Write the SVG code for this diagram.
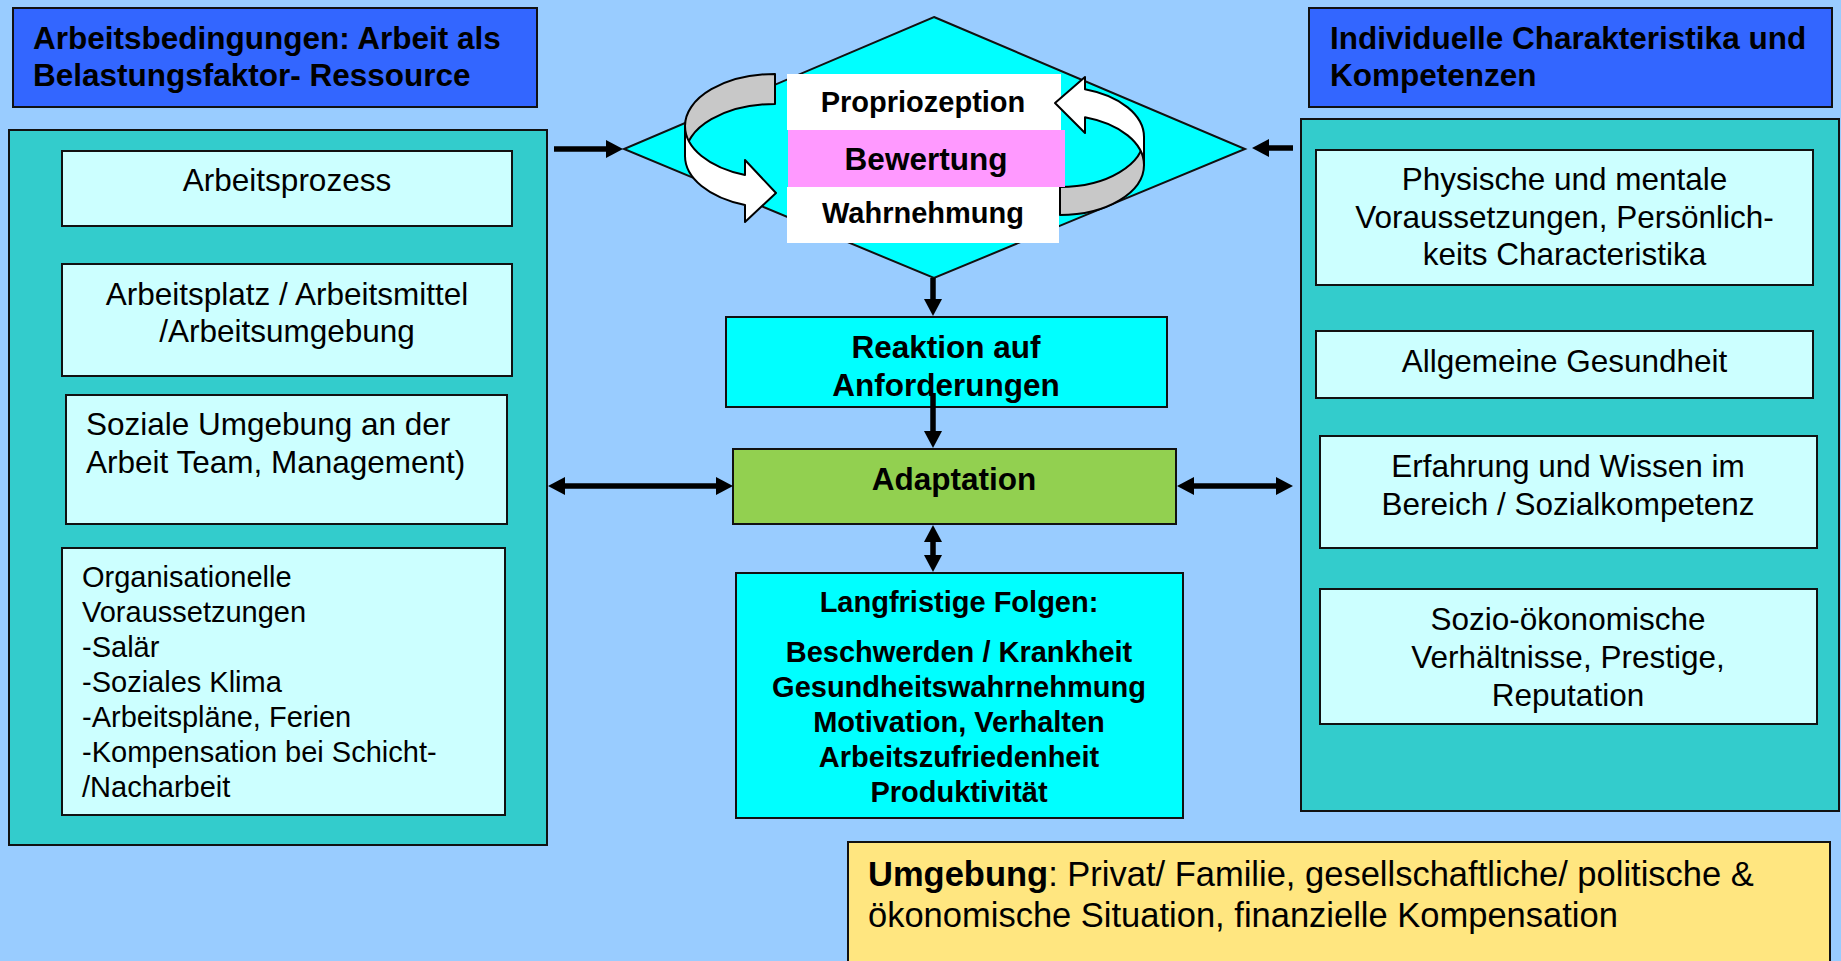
<svg xmlns="http://www.w3.org/2000/svg" width="1841" height="961" viewBox="0 0 1841 961">
<style>
.box{stroke:#111;stroke-width:2}
.title{fill:#3366FF}
.panel{fill:#33CCCC}
.inner{fill:#CCFFFF}
.cyan{fill:#00FFFF}
.t{font-family:"Liberation Sans",Arial,sans-serif;fill:#000}
.r31{font-size:31.5px}
.r29{font-size:29px}
.b31{font-size:31.5px;font-weight:bold}
.b29{font-size:29px;font-weight:bold}
.mid{text-anchor:middle}
.conn{stroke:#000;stroke-width:5.5;fill:none}
.rib{stroke:#000;stroke-width:2;stroke-linejoin:round}
</style>
<defs>
<marker id="ah" markerUnits="userSpaceOnUse" markerWidth="18" markerHeight="20" refX="8" refY="10" orient="auto-start-reverse">
<path d="M0,1 L17,10 L0,19 Z" fill="#000"/>
</marker>
</defs>
<rect width="1841" height="961" fill="#99CCFF"/>

<g id="title-left">
<rect class="box title" x="13" y="8" width="524" height="99"/>
<text class="t b31" x="33" y="49">Arbeitsbedingungen: Arbeit als</text>
<text class="t b31" x="33" y="86">Belastungsfaktor- Ressource</text>
</g>

<g id="title-right">
<rect class="box title" x="1309" y="8" width="523" height="99"/>
<text class="t b31" x="1330" y="49">Individuelle Charakteristika und</text>
<text class="t b31" x="1330" y="86">Kompetenzen</text>
</g>

<g id="panel-left">
<rect class="box panel" x="9" y="130" width="538" height="715"/>
</g>
<g id="arbeitsprozess">
<rect class="box inner" x="62" y="151" width="450" height="75"/>
<text class="t r31 mid" x="287" y="191">Arbeitsprozess</text>
</g>
<g id="arbeitsplatz">
<rect class="box inner" x="62" y="264" width="450" height="112"/>
<text class="t r31 mid" x="287" y="305">Arbeitsplatz / Arbeitsmittel</text>
<text class="t r31 mid" x="287" y="342">/Arbeitsumgebung</text>
</g>
<g id="soziale-umgebung">
<rect class="box inner" x="66" y="395" width="441" height="129"/>
<text class="t r31" x="86" y="435">Soziale Umgebung an der</text>
<text class="t r31" x="86" y="473">Arbeit Team, Management)</text>
</g>
<g id="organisationelle">
<rect class="box inner" x="62" y="548" width="443" height="267"/>
<text class="t r29" x="82" y="587">Organisationelle</text>
<text class="t r29" x="82" y="622">Voraussetzungen</text>
<text class="t r29" x="82" y="657">-Salär</text>
<text class="t r29" x="82" y="692">-Soziales Klima</text>
<text class="t r29" x="82" y="727">-Arbeitspläne, Ferien</text>
<text class="t r29" x="82" y="762">-Kompensation bei Schicht-</text>
<text class="t r29" x="82" y="797">/Nacharbeit</text>
</g>

<g id="panel-right">
<rect class="box panel" x="1301" y="119" width="538" height="692"/>
</g>
<g id="physische">
<rect class="box inner" x="1316" y="150" width="497" height="135"/>
<text class="t r31 mid" x="1564.5" y="190">Physische und mentale</text>
<text class="t r31 mid" x="1564.5" y="227.5">Voraussetzungen, Persönlich-</text>
<text class="t r31 mid" x="1564.5" y="265">keits Characteristika</text>
</g>
<g id="gesundheit">
<rect class="box inner" x="1316" y="331" width="497" height="67"/>
<text class="t r31 mid" x="1564.5" y="372">Allgemeine Gesundheit</text>
</g>
<g id="erfahrung">
<rect class="box inner" x="1320" y="436" width="497" height="112"/>
<text class="t r31 mid" x="1568" y="477">Erfahrung und Wissen im</text>
<text class="t r31 mid" x="1568" y="515">Bereich / Sozialkompetenz</text>
</g>
<g id="sozio">
<rect class="box inner" x="1320" y="589" width="497" height="135"/>
<text class="t r31 mid" x="1568" y="630">Sozio-ökonomische</text>
<text class="t r31 mid" x="1568" y="668">Verhältnisse, Prestige,</text>
<text class="t r31 mid" x="1568" y="706">Reputation</text>
</g>

<g id="bewertung-zyklus">
<polygon class="box cyan" points="934,17 1245,149 934,278 624,149"/>
<path class="rib" fill="#C8C8C8" d="M775,74 A90,52 0 0 0 685,126 L685,156 A90,52 0 0 1 775,104 Z"/>
<path class="rib" fill="#C8C8C8" d="M1060,215 A84,50 0 0 0 1144,165 L1144,137 A84,50 0 0 1 1060,187 Z"/>
<rect x="787" y="74" width="274" height="56" fill="#FFFFFF"/>
<rect x="788" y="130" width="277" height="57" fill="#FF99FF"/>
<rect x="787" y="187" width="272" height="56" fill="#FFFFFF"/>
<text class="t b29 mid" x="923" y="112">Propriozeption</text>
<text class="t b31 mid" x="926" y="170">Bewertung</text>
<text class="t b29 mid" x="923" y="223">Wahrnehmung</text>
<path class="rib" fill="#FFFFFF" d="M685,126 A90,52 0 0 0 745,175 L745,160 L776,193 L745,222 L745,205 A90,52 0 0 1 685,156 Z"/>
<path class="rib" fill="#FFFFFF" d="M1144,137 A84,50 0 0 0 1085,89.3 L1085,77 L1055,103 L1085,133 L1085,117.3 A84,50 0 0 1 1144,165 Z"/>
</g>

<g id="reaktion">
<rect class="box cyan" x="726" y="317" width="441" height="90"/>
<text class="t b31 mid" x="946" y="358">Reaktion auf</text>
<text class="t b31 mid" x="946" y="396">Anforderungen</text>
</g>

<g id="adaptation">
<rect class="box" fill="#92D050" x="733" y="449" width="443" height="75"/>
<text class="t b31 mid" x="954" y="490">Adaptation</text>
</g>

<g id="langfristige-folgen">
<rect class="box cyan" x="736" y="573" width="447" height="245"/>
<text class="t b29 mid" x="959" y="612">Langfristige Folgen:</text>
<text class="t b29 mid" x="959" y="662">Beschwerden / Krankheit</text>
<text class="t b29 mid" x="959" y="697">Gesundheitswahrnehmung</text>
<text class="t b29 mid" x="959" y="732">Motivation, Verhalten</text>
<text class="t b29 mid" x="959" y="767">Arbeitszufriedenheit</text>
<text class="t b29 mid" x="959" y="802">Produktivität</text>
</g>

<g id="umgebung">
<rect class="box" fill="#FFE680" x="848" y="842" width="982" height="130"/>
<text class="t" font-size="34.5" x="868" y="886"><tspan font-weight="bold">Umgebung</tspan>: Privat/ Familie, gesellschaftliche/ politische &amp;</text>
<text class="t" font-size="34.5" x="868" y="927">ökonomische Situation, finanzielle Kompensation</text>
</g>

<g id="connectors">
<line class="conn" x1="554" y1="149" x2="614" y2="149" marker-end="url(#ah)"/>
<line class="conn" x1="1293" y1="148" x2="1261" y2="148" marker-end="url(#ah)"/>
<line class="conn" x1="933" y1="278" x2="933" y2="307" marker-end="url(#ah)"/>
<line class="conn" x1="933" y1="393" x2="933" y2="439" marker-end="url(#ah)"/>
<line class="conn" x1="933" y1="534" x2="933" y2="563" marker-start="url(#ah)" marker-end="url(#ah)"/>
<line class="conn" x1="557" y1="486" x2="724" y2="486" marker-start="url(#ah)" marker-end="url(#ah)"/>
<line class="conn" x1="1186" y1="486" x2="1284" y2="486" marker-start="url(#ah)" marker-end="url(#ah)"/>
</g>
</svg>
